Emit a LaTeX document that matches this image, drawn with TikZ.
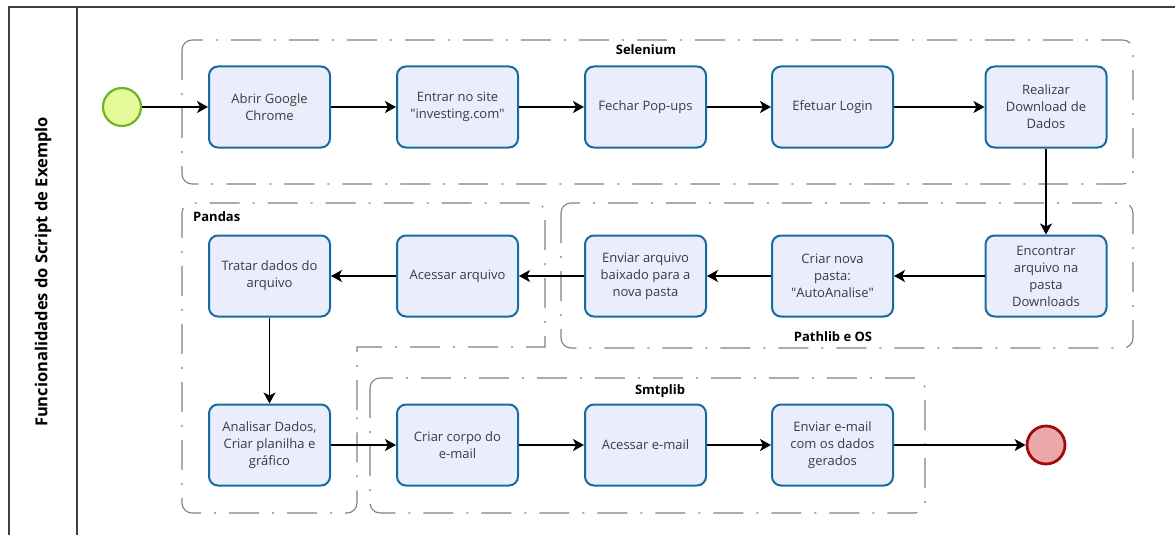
\documentclass[tikz,border=0pt]{standalone}
\usepackage{fontspec}
\setmainfont{Open Sans}
\usepackage{tikz}
\usetikzlibrary{arrows.meta}

\definecolor{boxfill}{RGB}{233,237,252}
\definecolor{boxline}{RGB}{22,108,160}
\definecolor{startfill}{RGB}{229,250,155}
\definecolor{startline}{RGB}{112,180,34}
\definecolor{endfill}{RGB}{235,168,170}
\definecolor{endline}{RGB}{160,12,12}
\definecolor{grpgray}{RGB}{128,128,128}
\definecolor{txtgray}{RGB}{60,60,60}

\begin{document}
\begin{tikzpicture}[x=1pt,y=-1pt]
    \tikzstyle{task}=[rectangle,draw=boxline,fill=boxfill,line width=2pt,rounded corners=9pt,minimum width=121pt,minimum height=81pt,inner sep=1pt,align=center,text=txtgray,font=\fontsize{13}{17}\selectfont]
    \tikzstyle{startev}=[circle,draw=startline,fill=startfill,line width=2.2pt,minimum size=38pt,inner sep=0pt]
    \tikzstyle{endev}=[circle,draw=endline,fill=endfill,line width=2.8pt,minimum size=38pt,inner sep=0pt]
    \tikzstyle{flow}=[line width=1.3pt,-{Stealth[length=11pt,width=12pt,inset=3pt]}]
    \tikzstyle{grp}=[draw=grpgray,line width=1.1pt,dash pattern=on 30pt off 13pt on 2pt off 13pt]
    \tikzstyle{grplabel}=[font=\fontsize{13}{15}\selectfont\bfseries,inner sep=0pt]
    \useasboundingbox (0,0) rectangle (1175,535);
    % lane frame
    \draw[black!75,line width=1.2pt] (1175,7) -- (9,7) -- (9,535);
    \draw[black!75,line width=1.2pt] (77,7) -- (77,535);
    \node (lane) at (43,272) [rotate=90,font=\fontsize{16.5}{19}\selectfont\bfseries] {Funcionalidades do Script de Exemplo};
    % groups
    \draw[grp,rounded corners=10pt] (182,40) rectangle (1133,184);
    \draw[grp,rounded corners=10pt] (561,203) rectangle (1133,348);
    \draw[grp,rounded corners=10pt] (370,378) rectangle (925,513);
    \draw[grp] (357,420) [sharp corners] -- (357,347) -- (545,347) -- (545,260) [rounded corners=10pt] -- (545,203) -- (182,203) -- (182,513) -- (357,513) -- cycle;
    \node (selenium) at (646,50) [grplabel] {Selenium};
    \node (pathlib)  at (833,337) [grplabel] {Pathlib e OS};
    \node (smtplib)  at (660,391) [grplabel] {Smtplib};
    \node (pandas)   at (193,217) [grplabel,anchor=west] {Pandas};
    % row 1
    \node (start)     at (122,107)    [startev] {};
    \node (abrir)     at (269.5,107)  [task] {Abrir Google\\Chrome};
    \node (entrar)    at (457.5,107)  [task] {Entrar no site\\\textquotedbl investing.com\textquotedbl};
    \node (fechar)    at (645.5,107)  [task] {Fechar Pop-ups};
    \node (login)     at (832.5,107)  [task] {Efetuar Login};
    \node (download)  at (1046,107)   [task] {Realizar\\Download de\\Dados};
    % row 2
    \node (encontrar) at (1046,276)   [task] {Encontrar\\arquivo na\\pasta\\Downloads};
    \node (pasta)     at (832.5,276)  [task] {Criar nova\\pasta:\\\textquotedbl AutoAnalise\textquotedbl};
    \node (mover)     at (645.5,276)  [task] {Enviar arquivo\\baixado para a\\nova pasta};
    \node (acessar)   at (457.5,276)  [task] {Acessar arquivo};
    \node (tratar)    at (269.5,276)  [task] {Tratar dados do\\arquivo};
    % row 3
    \node (analisar)  at (269.5,445)  [task] {Analisar Dados,\\Criar planilha e\\gráfico};
    \node (corpo)     at (457.5,445)  [task] {Criar corpo do\\e-mail};
    \node (email)     at (645.5,445)  [task] {Acessar e-mail};
    \node (enviar)    at (832.5,445)  [task] {Enviar e-mail\\com os dados\\gerados};
    \node (end)       at (1046,445)   [endev] {};
    % sequence flows
    \draw[flow] (start) -- (abrir);
    \draw[flow] (abrir) -- (entrar);
    \draw[flow] (entrar) -- (fechar);
    \draw[flow] (fechar) -- (login);
    \draw[flow] (login) -- (download);
    \draw[flow] (download) -- (encontrar);
    \draw[flow] (encontrar) -- (pasta);
    \draw[flow] (pasta) -- (mover);
    \draw[flow] (mover) -- (acessar);
    \draw[flow] (acessar) -- (tratar);
    \draw[flow] (tratar) -- (analisar);
    \draw[flow] (analisar) -- (corpo);
    \draw[flow] (corpo) -- (email);
    \draw[flow] (email) -- (enviar);
    \draw[flow] (enviar) -- (end);
\end{tikzpicture}
\end{document}
